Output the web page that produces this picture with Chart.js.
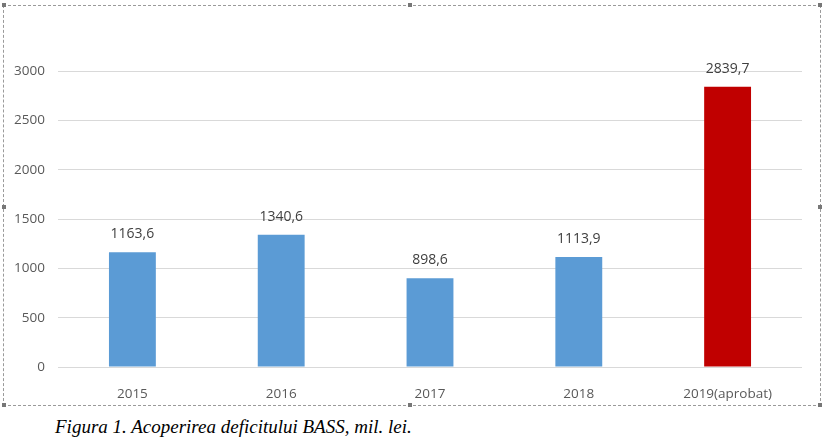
<!DOCTYPE html>
<html>
<head>
<meta charset="utf-8">
<script src="https://cdn.jsdelivr.net/npm/chart.js@4/dist/chart.umd.min.js"></script>
<style>
  html, body { margin: 0; padding: 0; background: #fff; }
  body { width: 824px; height: 441px; position: relative; overflow: hidden; }
  #frame {
    position: absolute; left: 3px; top: 5px; width: 816px; height: 399px;
    border: 1px dashed #9a9a9a;
  }
  #wrap { position: absolute; left: 4px; top: 6px; width: 816px; height: 398px; }
  .h { position: absolute; width: 4px; height: 4px; background: #777; }
  #caption {
    position: absolute; left: 55px; top: 416px;
    font-family: "Liberation Serif", "DejaVu Serif", serif;
    font-style: italic; font-size: 19px; color: #000; white-space: nowrap;
  }
</style>
</head>
<body>
<div id="frame"></div>
<div class="h" style="left:2px;top:3px"></div>
<div class="h" style="left:408px;top:3px"></div>
<div class="h" style="left:818px;top:3px"></div>
<div class="h" style="left:2px;top:205px"></div>
<div class="h" style="left:818px;top:205px"></div>
<div class="h" style="left:2px;top:403px"></div>
<div class="h" style="left:408px;top:403px"></div>
<div class="h" style="left:818px;top:403px"></div>
<div id="wrap"><canvas id="myChart"></canvas></div>
<div id="caption">Figura 1. Acoperirea deficitului BASS, mil. lei.</div>
<script>
const years = ['2015', '2016', '2017', '2018', '2019(aprobat)']
const deficit = [1163.6, 1340.6, 898.6, 1113.9, 2839.7]
const barColors = ['#5b9bd5', '#5b9bd5', '#5b9bd5', '#5b9bd5', '#c00000']
const yTicks = [0, 500, 1000, 1500, 2000, 2500, 3000]

const fontFam = '"Open Sans", "Liberation Sans", sans-serif'

// etichete deasupra barelor (virgula ca separator zecimal)
const valueLabels = {
  id: 'valueLabels',
  afterDatasetsDraw(chart) {
    const ctx = chart.ctx
    const meta = chart.getDatasetMeta(0)
    ctx.save()
    ctx.font = '14px ' + fontFam
    ctx.fillStyle = '#404040'
    ctx.textAlign = 'center'
    ctx.textBaseline = 'middle'
    meta.data.forEach((bar, i) => {
      const txt = deficit[i].toFixed(1).replace('.', ',')
      ctx.fillText(txt, bar.x, bar.y - 18)
    })
    ctx.restore()
  }
}

const ctx = document.getElementById('myChart')

new Chart(ctx, {
  type: 'bar',
  plugins: [valueLabels],
  data: {
    labels: years,
    datasets: [{
      data: deficit,
      backgroundColor: barColors,
      barPercentage: 0.315,
      categoryPercentage: 1
    }]
  },
  options: {
    responsive: true,
    maintainAspectRatio: false,
    animation: false,
    layout: { padding: { top: 65, right: 18, left: 0, bottom: 0 } },
    plugins: {
      legend: { display: false },
      tooltip: { enabled: false }
    },
    scales: {
      x: {
        grid: { display: false },
        border: { display: false },
        ticks: { color: '#595959', font: { family: fontFam, size: 13.5 }, padding: 11 },
        afterFit: (s) => { s.height = 37 }
      },
      y: {
        min: 0,
        max: 3000,
        afterBuildTicks: (s) => { s.ticks = yTicks.map(v => ({ value: v })) },
        grid: { color: '#d9d9d9', lineWidth: 1, drawTicks: false },
        border: { display: false },
        ticks: {
          color: '#595959',
          font: { family: fontFam, size: 13.5 },
          padding: 13,
          callback: (v) => String(v)
        },
        afterFit: (s) => { s.width = 54 }
      }
    }
  }
})
</script>
</body>
</html>
